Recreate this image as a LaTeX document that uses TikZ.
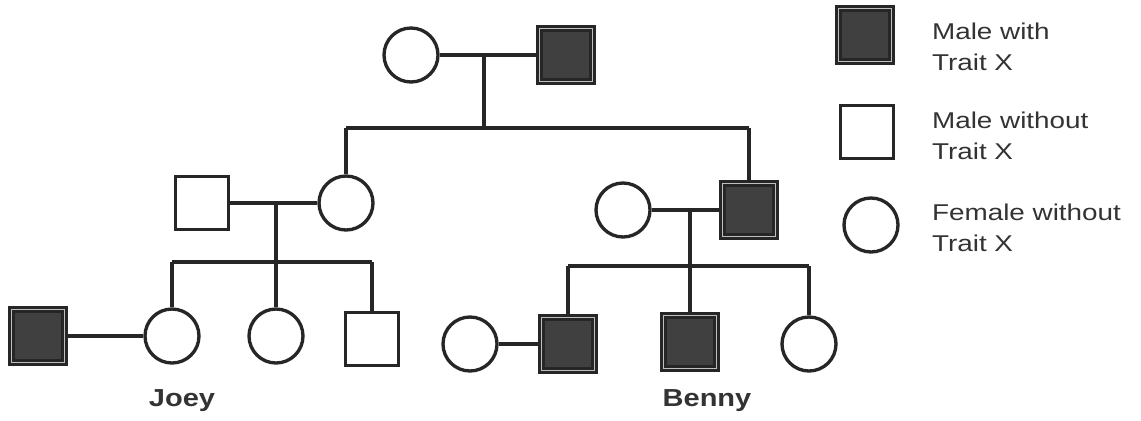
\documentclass[tikz,border=0pt]{standalone}
\usepackage{fontspec}
\setmainfont{Liberation Sans}
\begin{document}
\begin{tikzpicture}[x=0.02cm,y=-0.02cm,
  line width=1.9pt, draw=black!85,
  male/.style={draw, rectangle, minimum size=1.06cm, inner sep=0pt, fill=white},
  maleX/.style={male, fill=black!75, double=black!25, double distance=0.4pt},
  female/.style={draw, circle, minimum size=1.08cm, inner sep=0pt, fill=white},
  leg/.style={anchor=west, align=left, font=\fontsize{13}{17.5}\selectfont, xscale=1.22, text=black!80, inner sep=0pt},
  pname/.style={font=\fontsize{14}{16}\bfseries\selectfont, xscale=1.18, text=black!80, inner sep=0pt}]
\useasboundingbox (0,0) rectangle (1141,420);
% generation 1
\node[female] (gf) at (411,55) {};
\node[maleX]  (gm) at (566,55) {};
\coordinate (m1) at (484,55);
\coordinate (s1) at (484,128);
\coordinate (s1l) at (346,128);
\coordinate (s1r) at (749,128);
% generation 2 left
\node[male]   (ha) at (202,203) {};
\node[female] (da) at (346,203) {};
\coordinate (m2) at (276,203);
\coordinate (s2) at (276,262);
\coordinate (s2l) at (172,262);
\coordinate (s2r) at (372,262);
% generation 2 right
\node[female] (wi) at (623,210) {};
\node[maleX]  (sb) at (749,210) {};
\coordinate (m3) at (690,210);
\coordinate (s3) at (690,266);
\coordinate (s3l) at (568,266);
\coordinate (s3r) at (809,266);
% generation 3 left
\node[maleX]  (jh) at (38,336) {};
\node[female] (joey) at (172,336) {};
\node[female] (c2) at (276,336) {};
\node[male]   (c3) at (372,339) {};
% generation 3 right
\node[female] (bw) at (470,344) {};
\node[maleX]  (d1) at (568,344) {};
\node[maleX]  (benny) at (690,342) {};
\node[female] (d3) at (809,344) {};
% connectors
\draw (gf) -- (gm);
\draw (m1) -- (s1);
\draw (s1l) -- (s1r);
\draw (s1l) -- (da.north);
\draw (s1r) -- (sb.north);
\draw (ha) -- (da);
\draw (m2) -- (s2);
\draw (s2l) -- (s2r);
\draw (s2l) -- (joey.north);
\draw (s2) -- (c2.north);
\draw (s2r) -- (c3.north);
\draw (jh) -- (joey);
\draw (wi) -- (sb);
\draw (m3) -- (s3);
\draw (s3l) -- (s3r);
\draw (s3l) -- (d1.north);
\draw (s3) -- (benny.north);
\draw (s3r) -- (d3.north);
\draw (bw) -- (d1);
% labels
\node[pname] (lj) at (182,401) {Joey};
\node[pname] (lb) at (707,401) {Benny};
% legend
\node[maleX]  (k1) at (865,35) {};
\node[male]   (k2) at (867,132) {};
\node[female] (k3) at (871,225) {};
\node[leg] (t1) at (930,47) {Male with\\Trait X};
\node[leg] (t2) at (930,136) {Male without\\Trait X};
\node[leg] (t3) at (930,228) {Female without\\Trait X};
\end{tikzpicture}
\end{document}
